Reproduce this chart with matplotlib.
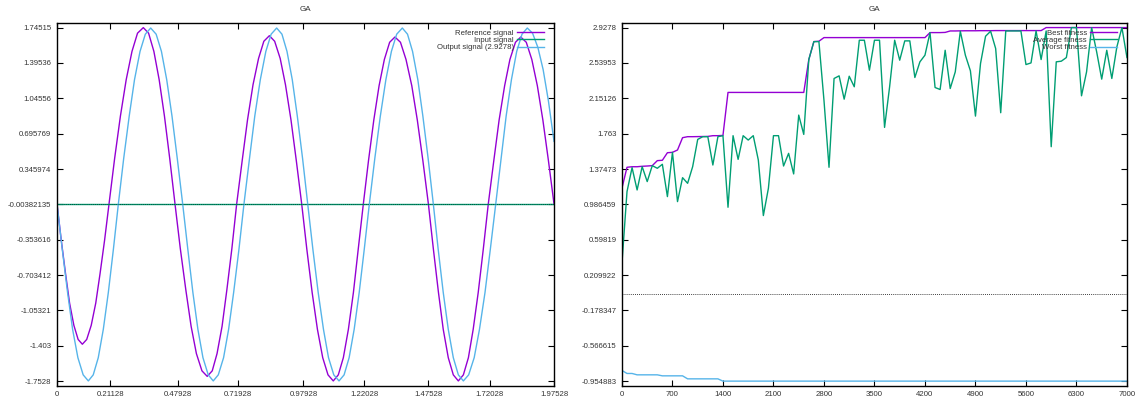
import numpy as np
import matplotlib
matplotlib.use("Agg")
import matplotlib.pyplot as plt

plt.rcParams['font.family'] = ['Liberation Sans', 'DejaVu Sans']

# ---- left panel: signals ----
ref_t = [0, 0.017, 0.034, 0.050, 0.067, 0.084, 0.1007,
         0.118, 0.136, 0.154, 0.171, 0.189, 0.2067,
         0.229, 0.252, 0.275, 0.298, 0.320, 0.343,
         0.364, 0.385, 0.406, 0.427, 0.448, 0.469,
         0.490, 0.512, 0.533, 0.554, 0.576, 0.597,
         0.617, 0.636, 0.656, 0.675, 0.695, 0.714,
         0.736, 0.757, 0.779, 0.801, 0.822, 0.844,
         0.865, 0.887, 0.908, 0.930, 0.951, 0.9725,
         0.993, 1.014, 1.035, 1.056, 1.077, 1.098,
         1.118, 1.138, 1.158, 1.178, 1.197, 1.2174,
         1.238, 1.259, 1.280, 1.301, 1.322, 1.343,
         1.365, 1.387, 1.410, 1.432, 1.454, 1.476,
         1.496, 1.516, 1.535, 1.555, 1.575, 1.595,
         1.615, 1.635, 1.654, 1.674, 1.694, 1.714,
         1.736, 1.757, 1.779, 1.800, 1.822, 1.843,
         1.865, 1.887, 1.909, 1.931, 1.953, 1.97528]
ref_v = [0, -0.36, -0.69, -0.98, -1.20, -1.34, -1.387,
         -1.34, -1.20, -0.98, -0.69, -0.36, 0,
         0.45, 0.87, 1.23, 1.51, 1.69, 1.745,
         1.69, 1.51, 1.23, 0.87, 0.45, 0,
         -0.44, -0.85, -1.21, -1.48, -1.65, -1.705,
         -1.65, -1.48, -1.21, -0.85, -0.44, 0,
         0.43, 0.83, 1.18, 1.44, 1.61, 1.665,
         1.61, 1.44, 1.18, 0.83, 0.43, 0,
         -0.45, -0.875, -1.24, -1.52, -1.69, -1.75,
         -1.69, -1.52, -1.24, -0.875, -0.45, 0,
         0.43, 0.83, 1.17, 1.43, 1.60, 1.652,
         1.60, 1.43, 1.17, 0.83, 0.43, 0,
         -0.45, -0.875, -1.24, -1.52, -1.69, -1.75,
         -1.69, -1.52, -1.24, -0.875, -0.45, 0,
         0.43, 0.83, 1.17, 1.43, 1.60, 1.652,
         1.60, 1.43, 1.17, 0.83, 0.43, 0]

out_t = [0, 0.021, 0.042, 0.062, 0.083, 0.104, 0.1245,
         0.144, 0.164, 0.184, 0.204, 0.224, 0.2438,
         0.265, 0.287, 0.308, 0.330, 0.351, 0.3723,
         0.394, 0.415, 0.436, 0.457, 0.478, 0.4995,
         0.520, 0.540, 0.560, 0.580, 0.601, 0.621,
         0.641, 0.662, 0.682, 0.702, 0.723, 0.743,
         0.765, 0.786, 0.808, 0.830, 0.851, 0.873,
         0.894, 0.914, 0.935, 0.955, 0.976, 0.9964,
         1.017, 1.038, 1.059, 1.079, 1.100, 1.1208,
         1.141, 1.161, 1.181, 1.201, 1.221, 1.2413,
         1.263, 1.285, 1.307, 1.329, 1.350, 1.3724,
         1.393, 1.413, 1.434, 1.454, 1.475, 1.4956,
         1.515, 1.535, 1.555, 1.575, 1.595, 1.615,
         1.636, 1.658, 1.679, 1.701, 1.722, 1.7436,
         1.765, 1.785, 1.806, 1.827, 1.848, 1.869,
         1.890, 1.911, 1.932, 1.953, 1.97528]
out_v = [0, -0.45, -0.875, -1.24, -1.52, -1.69, -1.75,
         -1.69, -1.52, -1.24, -0.875, -0.45, 0,
         0.45, 0.87, 1.23, 1.51, 1.68, 1.741,
         1.68, 1.51, 1.23, 0.87, 0.45, 0,
         -0.45, -0.875, -1.24, -1.52, -1.69, -1.75,
         -1.69, -1.52, -1.24, -0.875, -0.45, 0,
         0.45, 0.87, 1.23, 1.51, 1.68, 1.741,
         1.68, 1.51, 1.23, 0.87, 0.45, 0,
         -0.45, -0.875, -1.24, -1.52, -1.69, -1.75,
         -1.69, -1.52, -1.24, -0.875, -0.45, 0,
         0.45, 0.87, 1.23, 1.51, 1.68, 1.741,
         1.68, 1.51, 1.23, 0.87, 0.45, 0,
         -0.45, -0.875, -1.24, -1.52, -1.69, -1.75,
         -1.69, -1.52, -1.24, -0.875, -0.45, 0,
         0.45, 0.87, 1.23, 1.51, 1.68, 1.741,
         1.69, 1.55, 1.33, 1.02, 0.62]

in_t = [0, 1.97528]
in_v = [0, 0]

sig_xticks = [0, 0.21128, 0.47928, 0.71928, 0.97928, 1.22028, 1.47528, 1.72028, 1.97528]
sig_xlabels = ["0", "0.21128", "0.47928", "0.71928", "0.97928", "1.22028", "1.47528", "1.72028", "1.97528"]
sig_yticks = [1.74515, 1.39536, 1.04556, 0.695769, 0.345974, -0.00382135,
              -0.353616, -0.703412, -1.05321, -1.403, -1.7528]
sig_ylabels = ["1.74515", "1.39536", "1.04556", "0.695769", "0.345974", "-0.00382135",
               "-0.353616", "-0.703412", "-1.05321", "-1.403", "-1.7528"]

# ---- right panel: fitness per generation (every 70) ----
generations = np.arange(0, 7001, 70)
best_fit = [1.164, 1.394, 1.400, 1.400, 1.405, 1.408, 1.412, 1.467, 1.471, 1.554,
            1.558, 1.584, 1.719, 1.730, 1.730, 1.731, 1.732, 1.733, 1.741, 1.741,
            1.744, 2.216, 2.216, 2.216, 2.216, 2.216, 2.216, 2.216, 2.216, 2.216,
            2.216, 2.216, 2.216, 2.216, 2.216, 2.216, 2.216, 2.577, 2.774, 2.778,
            2.818, 2.818, 2.818, 2.818, 2.818, 2.818, 2.818, 2.818, 2.818, 2.818,
            2.818, 2.818, 2.818, 2.818, 2.818, 2.818, 2.818, 2.818, 2.818, 2.818,
            2.818, 2.873, 2.873, 2.873, 2.875, 2.891, 2.891, 2.892, 2.893, 2.893,
            2.893, 2.894, 2.894, 2.894, 2.895, 2.895, 2.895, 2.895, 2.895, 2.895,
            2.895, 2.895, 2.895, 2.895, 2.928, 2.928, 2.928, 2.928, 2.928, 2.928,
            2.928, 2.928, 2.928, 2.928, 2.928, 2.928, 2.928, 2.928, 2.928, 2.928,
            2.928]
avg_fit = [0.34, 1.127, 1.390, 1.145, 1.401, 1.237, 1.412, 1.383, 1.427, 1.072,
           1.558, 1.017, 1.280, 1.218, 1.401, 1.700, 1.730, 1.730, 1.419, 1.730,
           1.741, 0.955, 1.741, 1.481, 1.741, 1.693, 1.741, 1.474, 0.864, 1.164,
           1.741, 1.741, 1.408, 1.547, 1.321, 1.967, 1.755, 2.577, 2.774, 2.774,
           2.131, 1.394, 2.369, 2.398, 2.142, 2.394, 2.278, 2.789, 2.789, 2.460,
           2.789, 2.789, 1.832, 2.278, 2.789, 2.570, 2.782, 2.782, 2.380, 2.552,
           2.625, 2.873, 2.270, 2.248, 2.679, 2.259, 2.442, 2.888, 2.625, 2.453,
           1.956, 2.533, 2.833, 2.888, 2.698, 1.993, 2.891, 2.891, 2.891, 2.891,
           2.522, 2.540, 2.891, 2.577, 2.891, 1.620, 2.552, 2.559, 2.599, 2.928,
           2.928, 2.179, 2.442, 2.928, 2.661, 2.362, 2.679, 2.369, 2.716, 2.928,
           2.599]
worst_fit = [-0.837, -0.870, -0.870, -0.885, -0.885, -0.885, -0.885, -0.885, -0.896, -0.896,
             -0.896, -0.896, -0.896, -0.929, -0.929, -0.929, -0.929, -0.929, -0.929, -0.929] + \
            [-0.954] * 81

fit_xticks = [0, 700, 1400, 2100, 2800, 3500, 4200, 4900, 5600, 6300, 7000]
fit_yticks = [2.9278, 2.53953, 2.15126, 1.763, 1.37473, 0.986459, 0.59819,
              0.209922, -0.178347, -0.566615, -0.954883]
fit_ylabels = ["2.9278", "2.53953", "2.15126", "1.763", "1.37473", "0.986459", "0.59819",
               "0.209922", "-0.178347", "-0.566615", "-0.954883"]

purple = "#9400d3"
green = "#009e73"
blue = "#56b4e9"
fs = 5.6

fig = plt.figure(figsize=(11.41, 4.03), dpi=100)
ax1 = fig.add_axes([0.04996, 0.0434, 0.4356, 0.8988])
ax2 = fig.add_axes([0.5451, 0.0434, 0.4426, 0.8988])


def style(ax):
    for s in ax.spines.values():
        s.set_linewidth(1.0)
    ax.tick_params(direction='in', length=4, width=0.8, top=True, right=True,
                   labelsize=fs, pad=4, colors='black')
    for lab in ax.get_xticklabels() + ax.get_yticklabels():
        lab.set_color('#333333')


# left
ax1.plot(ref_t, ref_v, color=purple, lw=1.0, label="Reference signal")
ax1.plot(in_t, in_v, color=green, lw=1.0, label="Input signal")
ax1.plot(out_t, out_v, color=blue, lw=1.0, label="Output signal (2.9278)")
ax1.axhline(0, color='black', ls=(0, (1, 1.5)), lw=0.6, alpha=0.6)
ax1.set_xlim(0, 1.97528)
ax1.set_ylim(-1.7954, 1.7878)
ax1.set_xticks(sig_xticks)
ax1.set_xticklabels(sig_xlabels)
ax1.set_yticks(sig_yticks)
ax1.set_yticklabels(sig_ylabels)
ax1.set_title("GA", fontsize=5.8, pad=8.6, color='#333333')
style(ax1)

# right
ax2.plot(generations, best_fit, color=purple, lw=1.0, label="Best fitness")
ax2.plot(generations, avg_fit, color=green, lw=1.0, label="Average fitness")
ax2.plot(generations, worst_fit, color=blue, lw=1.0, label="Worst fitness")
ax2.axhline(0, color='black', ls=(0, (1, 1.5)), lw=0.6)
ax2.set_xlim(0, 7000)
ax2.set_ylim(-1.0022, 2.9751)
ax2.set_xticks(fit_xticks)
ax2.set_xticklabels([str(v) for v in fit_xticks])
ax2.set_yticks(fit_yticks)
ax2.set_yticklabels(fit_ylabels)
ax2.set_title("GA", fontsize=5.8, pad=8.6, color='#333333')
style(ax2)

for ax in (ax1, ax2):
    leg = ax.legend(loc='upper right', bbox_to_anchor=(0.982, 0.986), frameon=False,
                    markerfirst=False, fontsize=fs, handlelength=3.5,
                    handletextpad=0.4, labelspacing=0.0, borderpad=0.1,
                    borderaxespad=0)
    for t in leg.get_texts():
        t.set_color('#333333')

fig.savefig("out.png", dpi=100)
